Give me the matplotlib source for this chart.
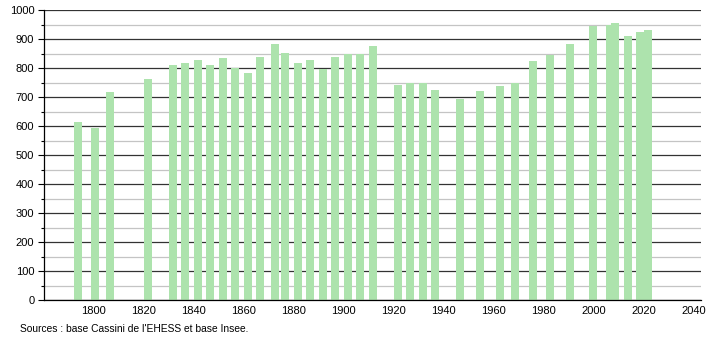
import numpy as np
import matplotlib
matplotlib.use('Agg')
import matplotlib.pyplot as plt
from matplotlib.ticker import MultipleLocator

plt.rcParams['font.family'] = ['Liberation Sans', 'DejaVu Sans']

# Population per census year
years = [1793, 1800, 1806, 1821, 1831, 1836, 1841, 1846, 1851, 1856,
         1861, 1866, 1872, 1876, 1881, 1886, 1891, 1896, 1901, 1906,
         1911, 1921, 1926, 1931, 1936, 1946, 1954, 1962, 1968, 1975,
         1982, 1990, 1999, 2006, 2008, 2013, 2018, 2021]
population = [614, 593, 717, 762, 810, 817, 828, 810, 834, 800,
              783, 838, 883, 852, 817, 828, 797, 838, 848, 848,
              876, 741, 750, 750, 724, 694, 721, 738, 750, 824,
              845, 883, 945, 950, 955, 910, 924, 930]

x_ticks = [1800, 1820, 1840, 1860, 1880, 1900, 1920, 1940, 1960, 1980, 2000, 2020, 2040]

fig = plt.figure(figsize=(7.1, 3.4), dpi=100)
ax = fig.add_axes([44 / 710, 40 / 340, 657 / 710, 290 / 340])

ax.set_xlim(1780, 2043)
ax.set_ylim(0, 1000)

# grid: dark every 100, light every 50
ax.yaxis.set_major_locator(MultipleLocator(100))
ax.yaxis.set_minor_locator(MultipleLocator(50))
ax.grid(axis='y', which='major', color='#333333', linewidth=0.9, zorder=0)
ax.grid(axis='y', which='minor', color='#c4c4c4', linewidth=0.9, zorder=0)
ax.set_axisbelow(True)

ax.bar(np.array(years) + 0.6, population, width=3.2, color='#ade3ad',
       edgecolor='none', zorder=2)

ax.set_xticks(x_ticks)
ax.tick_params(axis='x', length=0, labelsize=8, pad=4)
ax.tick_params(axis='y', which='major', length=4, width=0.8, labelsize=8, pad=3)
ax.tick_params(axis='y', which='minor', length=2.5, width=0.8)

for side in ['top', 'right']:
    ax.spines[side].set_visible(False)
ax.spines['left'].set_color('black')
ax.spines['bottom'].set_color('black')
ax.spines['left'].set_linewidth(0.9)
ax.spines['bottom'].set_linewidth(0.9)

fig.text(20 / 710, 1 - 329 / 340, "Sources : base Cassini de l'EHESS et base Insee.",
         fontsize=7.4, ha='left', va='center')

fig.savefig('out.png', dpi=100)
